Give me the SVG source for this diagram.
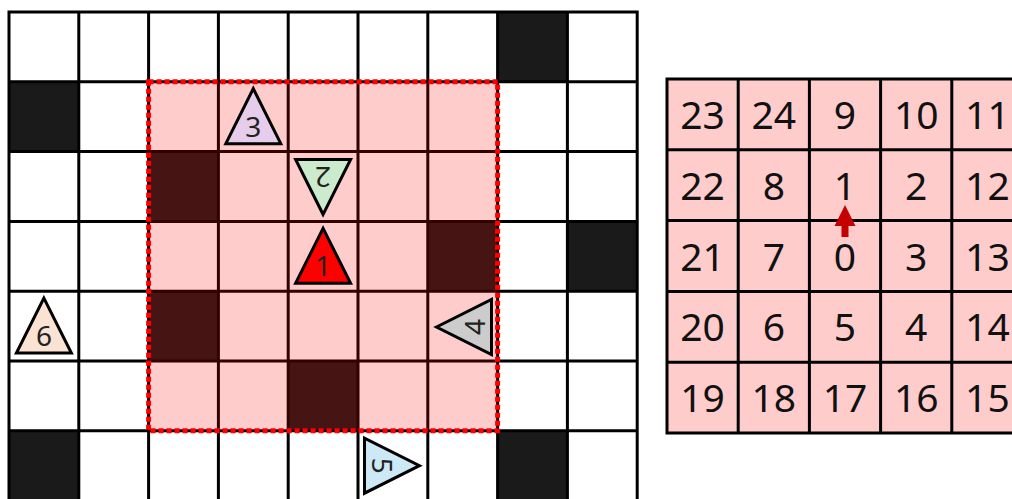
<svg xmlns="http://www.w3.org/2000/svg" width="1012" height="499" viewBox="0 0 1012 499">
<style>
.cell{fill:#ffffff}
.blk{fill:#1a1a1a}
.gl{stroke:#000;stroke-width:3;fill:none;stroke-linecap:square}
.tri{stroke:#000;stroke-width:3;stroke-linejoin:miter}
.tl{font-family:"Noto Sans",sans-serif;font-size:28px;text-anchor:middle;dominant-baseline:central;fill:#222}
.num{font-family:"Noto Sans",sans-serif;font-size:39px;text-anchor:middle;dominant-baseline:central;fill:#111}
</style>
<defs>
<polygon id="triShape" points="0,-28 27.5,27 -27.5,27"/>
</defs>
<rect width="1012" height="499" fill="#fff"/>
<g id="left-grid">
<rect x="9" y="12" width="628.2" height="500" class="cell"/>
<rect x="497.6" y="12" width="69.8" height="69.8" class="blk"/>
<rect x="9" y="81.8" width="69.8" height="69.8" class="blk"/>
<rect x="148.6" y="151.6" width="69.8" height="69.8" class="blk"/>
<rect x="427.8" y="221.4" width="69.8" height="69.8" class="blk"/>
<rect x="567.4" y="221.4" width="69.8" height="69.8" class="blk"/>
<rect x="148.6" y="291.2" width="69.8" height="69.8" class="blk"/>
<rect x="288.2" y="361" width="69.8" height="69.8" class="blk"/>
<rect x="9" y="430.8" width="69.8" height="69.8" class="blk"/>
<rect x="497.6" y="430.8" width="69.8" height="69.8" class="blk"/>
<path class="gl" d="M9 12V510M78.8 12V510M148.6 12V510M218.4 12V510M288.2 12V510M358 12V510M427.8 12V510M497.6 12V510M567.4 12V510M637.2 12V510M9 12H637.2M9 81.8H637.2M9 151.6H637.2M9 221.4H637.2M9 291.2H637.2M9 361H637.2M9 430.8H637.2"/>
<rect id="view-region" x="148.6" y="81.8" width="349" height="349" fill="#ff0000" fill-opacity="0.2" stroke="#ff0000" stroke-width="5" stroke-dasharray="5 3"/>
</g>
<g id="agent3" transform="translate(253.3,116.7)">
<use href="#triShape" class="tri" fill="#e6cdeb"/>
<text class="tl" x="0" y="9">3</text>
</g>
<g id="agent2" transform="translate(323.1,186.5) rotate(180)">
<use href="#triShape" class="tri" fill="#ccebcc"/>
<text class="tl" x="0" y="9">2</text>
</g>
<g id="agent1" transform="translate(323.1,256.3)">
<use href="#triShape" class="tri" fill="#ff0000"/>
<text class="tl" x="0" y="9">1</text>
</g>
<g id="agent4" transform="translate(464.5,327) rotate(-90)">
<use href="#triShape" class="tri" fill="#cccccc"/>
<text class="tl" x="0" y="9">4</text>
</g>
<g id="agent5" transform="translate(391.5,465.7) rotate(90)">
<use href="#triShape" class="tri" fill="#cce9f5"/>
<text class="tl" x="0" y="9">5</text>
</g>
<g id="agent6" transform="translate(43.9,326.1)">
<use href="#triShape" class="tri" fill="#fbe3d4"/>
<text class="tl" x="0" y="9">6</text>
</g>
<g id="right-grid">
<rect x="667" y="79" width="360" height="354" fill="#ffcccc"/>
<path class="gl" d="M667 79V433M738.2 79V433M809.4 79V433M880.6 79V433M951.8 79V433M1023 79V433M667 79H1023M667 149.8H1023M667 220.6H1023M667 291.4H1023M667 362.2H1023M667 433H1023"/>
<g class="num">
<text x="702.6" y="113">23</text><text x="773.8" y="113">24</text><text x="845" y="113">9</text><text x="916.2" y="113">10</text><text x="987.4" y="113">11</text>
<text x="702.6" y="184">22</text><text x="773.8" y="184">8</text><text x="845" y="184">1</text><text x="916.2" y="184">2</text><text x="987.4" y="184">12</text>
<text x="702.6" y="255">21</text><text x="773.8" y="255">7</text><text x="845" y="255">0</text><text x="916.2" y="255">3</text><text x="987.4" y="255">13</text>
<text x="702.6" y="325.5">20</text><text x="773.8" y="325.5">6</text><text x="845" y="325.5">5</text><text x="916.2" y="325.5">4</text><text x="987.4" y="325.5">14</text>
<text x="702.6" y="396.5">19</text><text x="773.8" y="396.5">18</text><text x="845" y="396.5">17</text><text x="916.2" y="396.5">16</text><text x="987.4" y="396.5">15</text>
</g>
</g>
<g id="connectors">
<polygon points="845,205 855.5,226 848.5,226 848.5,237 841.5,237 841.5,226 834.5,226" fill="#c40000"/>
</g>
</svg>
